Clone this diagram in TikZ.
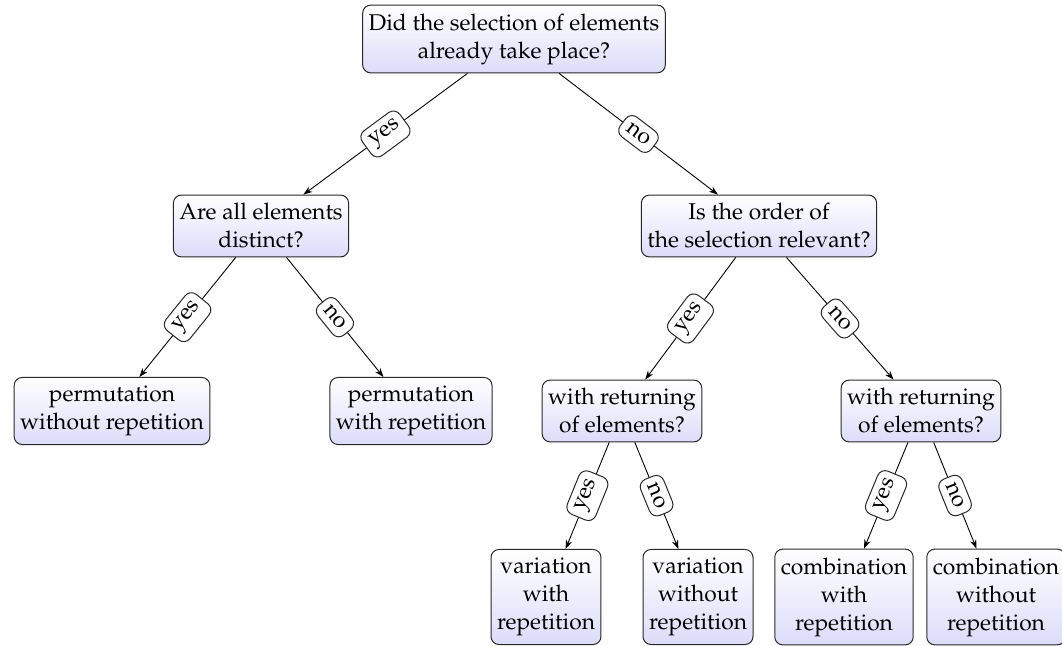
\documentclass[tikz,border=0pt]{standalone}
\usepackage[T1]{fontenc}
\usepackage{mathpazo}
\usetikzlibrary{arrows.meta,shapes.misc}
\definecolor{boxbot}{RGB}{220,220,250}
\definecolor{boxline}{RGB}{40,40,40}
\begin{document}
\begin{tikzpicture}[x=0.5pt,y=-0.5pt,
  box/.style={draw=boxline,line width=0.5pt,rounded corners=4pt,top color=white,bottom color=boxbot,
    align=center,inner xsep=3pt,inner ysep=4.2pt,font=\fontsize{11.4}{14}\selectfont},
  lbl/.style={draw=boxline,line width=0.5pt,fill=white,rounded corners=4pt,sloped,inner sep=3.3pt,
    font=\fontsize{11.4}{14}\selectfont},
  conn/.style={draw=black,line width=0.45pt,-{Stealth[length=4.5pt,width=3.2pt]}}]
\useasboundingbox (0,0) rectangle (1062,646);
\node[box] (root) at (514,39) {Did the selection of elements\\already take place?};
\node[box] (A) at (261,226) {Are all elements\\distinct?};
\node[box] (B) at (759,226) {Is the order of\\the selection relevant?};
\node[box] (C) at (112,411) {permutation\\without repetition};
\node[box] (D) at (411,411) {permutation\\with repetition};
\node[box] (E) at (622,411) {with returning\\of elements?};
\node[box] (F) at (921,411) {with returning\\of elements?};
\node[box] (G) at (546,597) {variation\\with\\repetition};
\node[box] (H) at (698,597) {variation\\without\\repetition};
\node[box] (I) at (844,597) {combination\\with\\repetition};
\node[box] (J) at (996,597) {combination\\without\\repetition};
\path[conn] (root) -- node[lbl]{yes} (A);
\path[conn] (root) -- node[lbl]{no} (B);
\path[conn] (A) -- node[lbl]{yes} (C);
\path[conn] (A) -- node[lbl]{no} (D);
\path[conn] (B) -- node[lbl]{yes} (E);
\path[conn] (B) -- node[lbl]{no} (F);
\path[conn] (E) -- node[lbl]{yes} (G);
\path[conn] (E) -- node[lbl]{no} (H);
\path[conn] (F) -- node[lbl]{yes} (I);
\path[conn] (F) -- node[lbl]{no} (J);
\end{tikzpicture}
\end{document}
